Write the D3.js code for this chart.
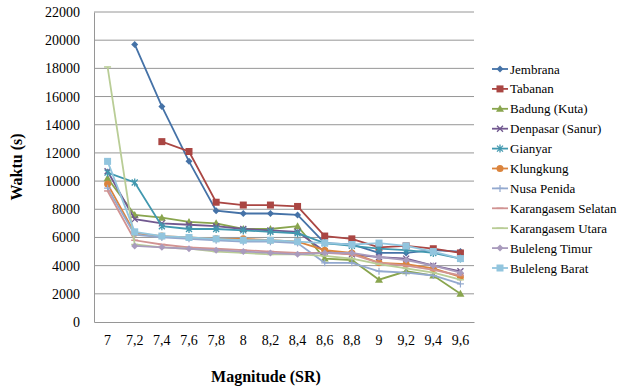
<!DOCTYPE html>
<html>
<head>
<meta charset="utf-8">
<script src="https://cdn.jsdelivr.net/npm/d3@7"></script>
<style>
  body { margin: 0; background: #fff; }
  svg text { font-family: "Times New Roman", Tinos, "Liberation Serif", "DejaVu Serif", "Noto Serif", Times, serif !important; }
</style>
</head>
<body>
<svg id="chart"></svg>
<script>
// Magnitude vs waktu per wilayah
const magnitudes = ["7", "7,2", "7,4", "7,6", "7,8", "8", "8,2", "8,4", "8,6", "8,8", "9", "9,2", "9,4", "9,6"];
const yTicks = [0, 2000, 4000, 6000, 8000, 10000, 12000, 14000, 16000, 18000, 20000, 22000];

const seriesNames = ["Jembrana", "Tabanan", "Badung (Kuta)", "Denpasar (Sanur)", "Gianyar", "Klungkung",
  "Nusa Penida", "Karangasem Selatan", "Karangasem Utara", "Buleleng Timur", "Buleleng Barat"];

const jembrana   = [null, 19700, 15300, 11400, 7900, 7700, 7700, 7600, 5600, 5500, 4900, 4900, 5100, 5000];
const tabanan    = [null, null, 12800, 12100, 8500, 8300, 8300, 8200, 6100, 5900, 5300, 5400, 5200, 4900];
const badung     = [10200, 7600, 7400, 7100, 7000, 6600, 6600, 6800, 4500, 4400, 3000, 3600, 3300, 2000];
const denpasar   = [10700, 7300, 7000, 6900, 6800, 6600, 6500, 6400, 5000, 4800, 4600, 4500, 4000, 3600];
const gianyar    = [10600, 9900, 6800, 6600, 6600, 6500, 6400, 6300, 5600, 5400, 5200, 5100, 4900, 4500];
const klungkung  = [9800, 6300, 6100, 6000, 5900, 5900, 5800, 5700, 5100, 4900, 4200, 4100, 3800, 3200];
const nusaPenida = [9500, 6200, 6000, 5900, 5800, 5700, 5700, 5600, 4200, 4200, 3600, 3500, 3300, 2700];
const karSelatan = [9300, 5800, 5500, 5300, 5200, 5100, 5000, 4900, 4900, 4800, 4200, 4000, 3700, 3300];
const karUtara   = [18100, 5500, 5300, 5200, 5000, 4900, 4800, 4800, 4700, 4500, 4100, 3800, 3500, 3000];
const bulTimur   = [null, 5400, 5300, 5200, 5100, 5000, 4900, 4800, 4900, 4900, 4600, 4400, 4000, 3500];
const bulBarat   = [11400, 6400, 6100, 6000, 5900, 5800, 5800, 5700, 5600, 5500, 5600, 5400, 5000, 4500];

const seriesValues = [jembrana, tabanan, badung, denpasar, gianyar, klungkung, nusaPenida, karSelatan, karUtara, bulTimur, bulBarat];

// tampilan (warna & marker ala Excel 2007)
const colors = ["#4572A7", "#AA4643", "#89A54E", "#71588F", "#4198AF", "#DB843D",
  "#93A9CF", "#D19392", "#B9CD96", "#A99BBD", "#92C5DE"];
const markers = ["diamond", "square", "triangle", "x", "star", "circle", "plus", "dash", "dash", "diamond", "square"];

const width = 626, height = 390;
const margin = { left: 94, right: 152, top: 12, bottom: 68 };

const svg = d3.select("#chart").attr("width", width).attr("height", height);

const x = d3.scaleBand().domain(magnitudes).range([margin.left, width - margin.right]);
const y = d3.scaleLinear().domain([0, 22000]).range([height - margin.bottom, margin.top]);
const cx = d => x(d) + x.bandwidth() / 2;

// grid
svg.append("g")
  .selectAll("line")
  .data(yTicks.filter(t => t > 0))
  .join("line")
  .attr("x1", margin.left).attr("x2", width - margin.right)
  .attr("y1", d => y(d)).attr("y2", d => y(d))
  .attr("stroke", "#969696").attr("stroke-width", 1);

// y axis
const yAxis = svg.append("g")
  .attr("transform", `translate(${margin.left},0)`)
  .call(d3.axisLeft(y).tickValues(yTicks).tickSize(0).tickPadding(14).tickFormat(d3.format("d")));
yAxis.select(".domain").attr("stroke", "#969696");
yAxis.selectAll("text").attr("font-size", 14).attr("fill", "#000");

// x axis
const xAxis = svg.append("g")
  .attr("transform", `translate(0,${height - margin.bottom})`)
  .call(d3.axisBottom(x).tickSize(0).tickPadding(13));
xAxis.select(".domain").attr("stroke", "#969696");
xAxis.selectAll("text").attr("font-size", 14).attr("fill", "#000");

// axis titles
svg.append("text")
  .attr("transform", "translate(22,167) rotate(-90)")
  .attr("text-anchor", "middle")
  .attr("font-size", 16).attr("font-weight", "bold")
  .text("Waktu (s)");

svg.append("text")
  .attr("x", 266).attr("y", 382)
  .attr("text-anchor", "middle")
  .attr("font-size", 16).attr("font-weight", "bold")
  .text("Magnitude (SR)");

function drawMarker(g, type, color, px, py) {
  if (type === "diamond") {
    g.append("path").attr("d", `M${px},${py - 3.5}L${px + 3.5},${py}L${px},${py + 3.5}L${px - 3.5},${py}Z`).attr("fill", color);
  } else if (type === "square") {
    g.append("rect").attr("x", px - 3.5).attr("y", py - 3.5).attr("width", 7).attr("height", 7).attr("fill", color);
  } else if (type === "triangle") {
    g.append("path").attr("d", `M${px},${py - 4}L${px + 4},${py + 3}L${px - 4},${py + 3}Z`).attr("fill", color);
  } else if (type === "circle") {
    g.append("circle").attr("cx", px).attr("cy", py).attr("r", 3.5).attr("fill", color);
  } else if (type === "x") {
    g.append("path").attr("d", `M${px - 3},${py - 3}L${px + 3},${py + 3}M${px - 3},${py + 3}L${px + 3},${py - 3}`)
      .attr("stroke", color).attr("stroke-width", 1.3);
  } else if (type === "star") {
    g.append("path").attr("d", `M${px - 3},${py - 3}L${px + 3},${py + 3}M${px - 3},${py + 3}L${px + 3},${py - 3}M${px},${py - 4}L${px},${py + 4}`)
      .attr("stroke", color).attr("stroke-width", 1.3);
  } else if (type === "plus") {
    g.append("path").attr("d", `M${px - 3.5},${py}L${px + 3.5},${py}M${px},${py - 3.5}L${px},${py + 3.5}`)
      .attr("stroke", color).attr("stroke-width", 1.2);
  } else if (type === "dash") {
    g.append("path").attr("d", `M${px - 3.5},${py}L${px + 3.5},${py}`)
      .attr("stroke", color).attr("stroke-width", 1.5);
  }
}

const line = d3.line()
  .defined(d => d.v !== null)
  .x(d => cx(d.m))
  .y(d => y(d.v));

const plot = svg.append("g");
seriesValues.forEach((vals, i) => {
  const pts = vals.map((v, j) => ({ m: magnitudes[j], v }));
  const g = plot.append("g");
  g.append("path")
    .datum(pts)
    .attr("d", line)
    .attr("fill", "none")
    .attr("stroke", colors[i])
    .attr("stroke-width", 1.8);
  pts.filter(p => p.v !== null).forEach(p => drawMarker(g, markers[i], colors[i], cx(p.m), y(p.v)));
});

// legend
const legend = svg.append("g");
seriesNames.forEach((name, i) => {
  const ly = 69 + i * 19.9;
  const g = legend.append("g");
  g.append("line").attr("x1", 492).attr("x2", 508).attr("y1", ly).attr("y2", ly)
    .attr("stroke", colors[i]).attr("stroke-width", 1.8);
  drawMarker(g, markers[i], colors[i], 500, ly);
  g.append("text").attr("x", 510).attr("y", ly + 4.5).attr("font-size", 13).text(name);
});
</script>
</body>
</html>
